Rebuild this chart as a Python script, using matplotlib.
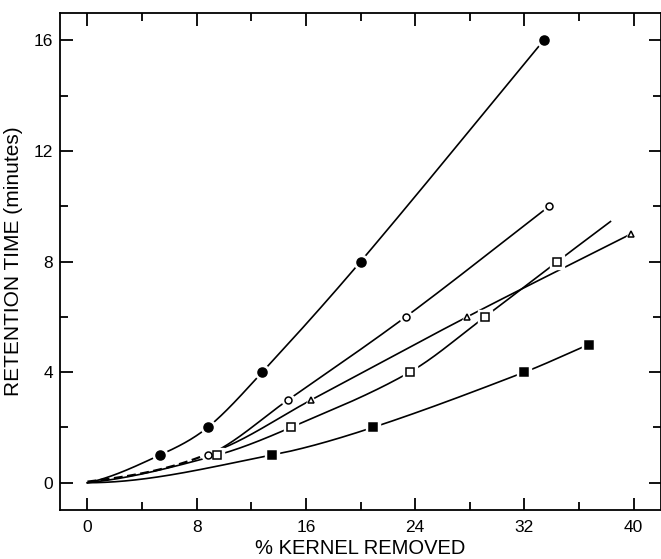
import numpy as np
import matplotlib.pyplot as plt
from matplotlib.ticker import MultipleLocator

# Values (x = % kernel removed, y = retention time in minutes)
fc_x = [5.3, 8.8, 12.8, 20.0, 33.4]
fc_y = [1, 2, 4, 8, 16]

oc_x = [8.8, 14.7, 23.3, 33.8]
oc_y = [1, 3, 6, 10]

tri_x = [16.4, 27.8, 39.8]
tri_y = [3, 6, 9]
tri_start = (9.4, 1.15)  # where the triangle curve leaves the common branch

os_x = [9.5, 14.9, 23.6, 29.1, 34.4]
os_y = [1, 2, 4, 6, 8]
os_end = (38.3, 9.45)  # open-square curve runs on past its last point

fs_x = [13.5, 20.9, 32.0, 36.7]
fs_y = [1, 2, 4, 5]


def curve(x, y, s0, n=400):
    """Cardinal (Catmull-Rom style) Hermite curve, slope s0 at the origin."""
    x = np.asarray(x, float)
    y = np.asarray(y, float)
    m = np.empty_like(x)
    m[0] = s0
    m[1:-1] = (y[2:] - y[:-2]) / (x[2:] - x[:-2])
    m[-1] = (y[-1] - y[-2]) / (x[-1] - x[-2])
    h = np.diff(x)
    xs = np.linspace(x[0], x[-1], n)
    i = np.clip(np.searchsorted(x, xs) - 1, 0, len(x) - 2)
    t = (xs - x[i]) / h[i]
    ys = (2 * t**3 - 3 * t**2 + 1) * y[i] + (t**3 - 2 * t**2 + t) * h[i] * m[i] \
        + (-2 * t**3 + 3 * t**2) * y[i + 1] + (t**3 - t**2) * h[i] * m[i + 1]
    return xs, ys


def markers(ax, x, y, marker, size, filled):
    # white halo first so the line breaks around each symbol
    ax.plot(x, y, ls='none', marker=marker, ms=size + 4, mfc='white',
            mec='white', zorder=3)
    ax.plot(x, y, ls='none', marker=marker, ms=size,
            mfc='black' if filled else 'white', mec='black', mew=1.1, zorder=4)


plt.rcParams['font.family'] = ['Liberation Sans', 'DejaVu Sans']
fig = plt.figure(figsize=(6.61, 5.59), dpi=100)
ax = fig.add_axes([0.091, 0.087, 0.909, 0.89])

lw = 1.2
k = dict(color='black', lw=lw, zorder=2)

# filled circles
xs, ys = curve([0] + fc_x, [0] + fc_y, 0.1)
ax.plot(xs, ys, **k)
markers(ax, fc_x, fc_y, 'o', 6.5, True)

# open circles: dashed start, solid after first point
xs, ys = curve([0] + oc_x, [0] + oc_y, 0.06)
first = xs <= oc_x[0]
ax.plot(xs[first], ys[first] + 0.04, color='black', lw=lw + 0.4, ls=(0, (4, 2)), zorder=2)
ax.plot(xs[~first], ys[~first], **k)
markers(ax, oc_x, oc_y, 'o', 5, False)

# triangles
xs, ys = curve([0, tri_start[0]] + tri_x, [0, tri_start[1]] + tri_y, 0.06)
ax.plot(xs[xs >= tri_start[0]], ys[xs >= tri_start[0]], **k)
markers(ax, tri_x, tri_y, '^', 5, False)

# open squares
xs, ys = curve([0] + os_x + [os_end[0]], [0] + os_y + [os_end[1]], 0.05)
ax.plot(xs, ys, **k)
markers(ax, os_x, os_y, 's', 5.5, False)

# filled squares
xs, ys = curve([0] + fs_x, [0] + fs_y, 0.0)
ax.plot(xs, ys, **k)
markers(ax, fs_x, fs_y, 's', 5.5, True)

ax.set_xlim(-2, 42)
ax.set_ylim(-1, 17)
ax.xaxis.set_major_locator(MultipleLocator(8))
ax.xaxis.set_minor_locator(MultipleLocator(4))
ax.yaxis.set_major_locator(MultipleLocator(4))
ax.yaxis.set_minor_locator(MultipleLocator(2))
ax.tick_params(which='both', direction='in', top=True, right=True,
               width=1.3, labelsize=12.5, color='black')
ax.tick_params(which='major', length=9, pad=7)
ax.tick_params(which='minor', length=6)
ax.tick_params(axis='y', which='major', pad=5)
for s in ax.spines.values():
    s.set_linewidth(1.3)

ax.set_xlabel('% KERNEL REMOVED', fontsize=14.5, labelpad=3)
ax.set_ylabel('RETENTION TIME (minutes)', fontsize=15, labelpad=8)

fig.savefig('out.png', dpi=100)
